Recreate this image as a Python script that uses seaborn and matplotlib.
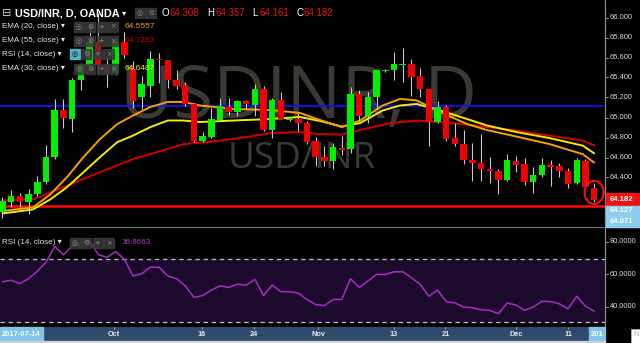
import matplotlib
matplotlib.use('Agg')
import matplotlib.pyplot as plt
import seaborn as sns
import numpy as np
import pandas as pd
from matplotlib.patches import Rectangle, Ellipse
from matplotlib.lines import Line2D

# ---------------- data ----------------
opens = [64.06, 64.16, 64.22, 64.16, 64.24, 64.36, 64.61, 65.08, 64.99, 65.38,
         65.52, 65.76, 65.52, 65.45, 65.76, 65.49, 65.21, 65.32, 65.59, 65.58,
         65.38, 65.33, 65.14, 64.77, 64.81, 64.98, 65.11, 65.06, 65.17, 65.13,
         65.29, 64.88, 65.18, 64.98, 64.99, 64.95, 64.77, 64.61, 64.57, 64.70,
         64.69, 65.24, 65.02, 65.21, 65.47, 65.48, 65.53, 65.54, 65.42, 65.29,
         64.96, 65.11, 64.80, 64.74, 64.58, 64.55, 64.49, 64.47, 64.38, 64.57,
         64.54, 64.36, 64.43, 64.53, 64.52, 64.47, 64.35, 64.57, 64.308]
highs = [64.21, 64.28, 64.25, 64.29, 64.42, 64.73, 65.19, 65.19, 65.40, 65.55,
         65.92, 66.05, 65.61, 65.80, 65.86, 65.57, 65.42, 65.67, 65.65, 65.58,
         65.48, 65.36, 65.15, 64.86, 65.10, 65.20, 65.20, 65.18, 65.18, 65.34,
         65.32, 65.20, 65.26, 65.00, 65.05, 64.97, 64.81, 64.72, 64.75, 64.82,
         65.31, 65.28, 65.26, 65.49, 65.49, 65.66, 65.70, 65.59, 65.50, 65.29,
         65.17, 65.13, 64.95, 64.88, 64.75, 64.84, 64.61, 64.49, 64.64, 64.62,
         64.60, 64.51, 64.60, 64.58, 64.55, 64.50, 64.60, 64.59, 64.357]
lows = [64.00, 64.11, 64.11, 64.04, 64.22, 64.34, 64.59, 64.90, 64.86, 65.28,
        65.51, 65.44, 65.31, 65.43, 65.60, 65.10, 65.09, 65.21, 65.35, 65.30,
        65.29, 65.12, 64.76, 64.76, 64.80, 64.97, 65.03, 65.02, 65.09, 65.02,
        64.87, 64.80, 64.99, 64.97, 64.87, 64.74, 64.52, 64.52, 64.49, 64.63,
        64.65, 64.97, 64.95, 65.10, 65.46, 65.38, 65.36, 65.22, 65.21, 64.72,
        64.95, 64.77, 64.72, 64.54, 64.37, 64.37, 64.35, 64.24, 64.37, 64.46,
        64.33, 64.25, 64.41, 64.32, 64.41, 64.30, 64.34, 64.30, 64.161]
closes = [64.17, 64.22, 64.16, 64.24, 64.36, 64.61, 65.08, 65.00, 65.38, 65.53,
          65.76, 65.53, 65.45, 65.76, 65.63, 65.17, 65.34, 65.59, 65.58, 65.38,
          65.32, 65.14, 64.77, 64.82, 64.99, 65.12, 65.06, 65.17, 65.14, 65.29,
          64.88, 65.18, 64.99, 64.99, 64.95, 64.76, 64.61, 64.57, 64.71, 64.685,
          65.24, 65.02, 65.21, 65.48, 65.48, 65.54, 65.54, 65.41, 65.29, 64.96,
          65.11, 64.79, 64.74, 64.58, 64.55, 64.49, 64.47, 64.38, 64.58, 64.53,
          64.36, 64.43, 64.53, 64.51, 64.47, 64.34, 64.58, 64.31, 64.182]

ema20_idx = [0, 3.5, 5.5, 7.4, 9.3, 11.2, 13.2, 15, 17, 19, 20.8, 22.7, 26.5, 30.8,
             34.2, 36.5, 39, 41.1, 43.7, 45.7, 47.6, 50.3, 53.4, 55.7, 59.1, 62.9, 66.7, 68]
ema20_val = [64.075, 64.11, 64.24, 64.41, 64.61, 64.79, 64.94, 65.025, 65.11, 65.16, 65.16,
             65.125, 65.09, 65.08, 65.05, 64.98, 64.91, 64.975, 65.125, 65.19, 65.175, 65.06,
             64.94, 64.88, 64.815, 64.74, 64.64, 64.5557]
ema30_idx = [0, 3.5, 5.5, 7.4, 9.3, 11.2, 13.2, 15, 17, 19, 20.8, 22.7, 26.5, 30.8,
             34.2, 36.5, 39, 41.1, 43.7, 45.7, 47.6, 50.3, 53.4, 55.7, 59.1, 62.9, 66.7, 68]
ema30_val = [64.05, 64.09, 64.19, 64.31, 64.46, 64.61, 64.76, 64.825, 64.91, 64.975, 64.975,
             64.96, 64.975, 64.99, 65.01, 64.97, 64.915, 64.95, 65.075, 65.125, 65.14, 65.075,
             64.99, 64.925, 64.86, 64.80, 64.725, 64.6487]
ema55_idx = [0, 3.5, 7.4, 11.2, 15, 18.9, 20.8, 24.7, 28.4, 30.8, 34.2, 36.5, 39,
             41.6, 44.6, 47.6, 50.3, 53.4, 55.7, 59.1, 62.9, 66.7, 68]
ema55_val = [64.18, 64.19, 64.325, 64.46, 64.59, 64.69, 64.74, 64.77, 64.815, 64.85, 64.86,
             64.84, 64.835, 64.89, 64.95, 64.975, 64.96, 64.935, 64.91, 64.875, 64.825,
             64.775, 64.7283]

rsi_vals = [55.5, 56.5, 54.4, 57.5, 62.3, 68.0, 78.0, 72.7, 78.3, 80.4,
            81.5, 73.0, 71.0, 74.8, 70.0, 59.2, 60.6, 64.8, 64.8, 59.2,
            57.5, 52.9, 45.6, 46.7, 50.2, 52.9, 51.9, 54.0, 53.3, 57.1,
            46.7, 53.5, 49.2, 49.2, 48.3, 44.2, 41.0, 40.4, 44.2, 44.2,
            57.5, 51.9, 56.0, 60.2, 60.2, 61.9, 61.9, 58.1, 54.0, 46.3,
            50.2, 42.9, 42.1, 39.4, 39.0, 37.7, 37.3, 35.2, 41.9, 40.8,
            37.3, 39.4, 43.1, 42.9, 41.5, 38.3, 46.3, 40.0, 36.86]

blue_level = 65.118
red_level = 64.125
price_ticks = [66.0, 65.8, 65.6, 65.4, 65.2, 65.0, 64.8, 64.6, 64.4]
rsi_ticks = [80, 60, 40]
rsi_bands = [30, 70]
date_labels = ['Oct', '16', '24', 'Nov', '13', '21', 'Dec', '11']
date_pos = [12.85, 22.9, 28.9, 36.3, 45.0, 50.9, 59.0, 65.0]

# ---------------- figure ----------------
sns.set_style('dark')
plt.rcParams['font.family'] = ['Liberation Sans', 'DejaVu Sans']

W, H = 640, 343
fig = plt.figure(figsize=(6.4, 3.43), dpi=100, facecolor='black')

def fx(x):
    return x / W

def fy(y):
    return 1 - y / H

XL = (-0.287, 69.25)
P_TOP, P_BOT = 66.175, 63.915

ax = fig.add_axes([0, fy(227), fx(605), 227 / H])
ax_r = fig.add_axes([0, fy(327), fx(605), 99 / H])
ax_d = fig.add_axes([0, fy(341), fx(605), 14 / H])
for a in (ax, ax_r, ax_d):
    a.set_facecolor('black')
    for s in a.spines.values():
        s.set_visible(False)
    a.set_xticks([])
    a.set_yticks([])
    a.grid(False)
    a.set_xlim(*XL)
    a.set_xlabel('')
    a.set_ylabel('')

ax.set_ylim(P_BOT, P_TOP)

# watermark
ax.text(fx(120), fy(118), 'USDINR, D', transform=fig.transFigure, ha='left', va='baseline',
        fontsize=52.5, color='#3a3934', family=['Open Sans', 'DejaVu Sans'], fontweight='normal', zorder=0)
ax.text(fx(228), fy(168.5), 'USD/INR', transform=fig.transFigure, ha='left', va='baseline',
        fontsize=26.5, color='#3a3934', family=['Open Sans', 'DejaVu Sans'], fontweight='normal', zorder=0)

# horizontal levels
ax.axhline(blue_level, xmin=0, xmax=603 / 605, color='#1010ff', lw=1.3, zorder=1)
ax.axhline(red_level, color='#ff0a0a', lw=1.8, zorder=1)

# EMA lines
sns.lineplot(x=ema55_idx, y=ema55_val, ax=ax, color='#d00000', lw=1.4, estimator=None, sort=False, zorder=2)
sns.lineplot(x=ema30_idx, y=ema30_val, ax=ax, color='#f5ea00', lw=1.4, estimator=None, sort=False, zorder=2)
sns.lineplot(x=ema20_idx, y=ema20_val, ax=ax, color='#f5a000', lw=1.4, estimator=None, sort=False, zorder=2)

# candles
idx = np.arange(len(opens))
o = np.array(opens); c = np.array(closes); h = np.array(highs); l = np.array(lows)
up = c >= o
ax.vlines(idx, l, h, color='#c8c8c8', lw=0.8, zorder=3)
bottoms = np.minimum(o, c)
heights = np.maximum(np.abs(c - o), 0.012)
ax.bar(idx[up], heights[up], bottom=bottoms[up], width=0.74, color='#00f000', zorder=4, linewidth=0)
ax.bar(idx[~up], heights[~up], bottom=bottoms[~up], width=0.74, color='#f00000', zorder=4, linewidth=0)

# circle around last candle
last = len(opens) - 1
ax.add_patch(Ellipse((idx[last], (h[last] + l[last]) / 2), 2.2, 0.23, fill=False,
                     edgecolor='#ff1010', lw=1.4, zorder=5))

# ---------------- RSI panel ----------------
ax_r.set_ylim(26.7, 89.8)
ax_r.axhspan(rsi_bands[0], rsi_bands[1], color='#1c0a2c', zorder=0)
for b in rsi_bands:
    ax_r.axhline(b, color='#c0c0c0', lw=0.9, dashes=(3.5, 3), zorder=1)
sns.lineplot(x=idx, y=rsi_vals, ax=ax_r, color='#a62cc8', lw=1.1, estimator=None, zorder=2)
ax_r.set_xlabel(''); ax_r.set_ylabel('')
ax_r.set_xticks([]); ax_r.set_yticks([])

# ---------------- date bar ----------------
ax_d.set_facecolor('#2e4a6c')
ax_d.set_ylim(0, 1)
for lab, p in zip(date_labels, date_pos):
    ax_d.text(p, 0.45, lab, ha='center', va='center', fontsize=5.3, color='#e6e6e6', fontweight='bold')
    ax_d.plot([p, p], [0.85, 1.0], color='#9ab0c8', lw=0.6)

fig.patches.append(Rectangle((0, fy(341)), fx(43), 14 / H, transform=fig.transFigure,
                             color='#80c4ea', zorder=5))
fig.text(fx(21.5), fy(334), '2017-07-14', ha='center', va='center', fontsize=5.4,
         color='white', fontweight='bold', zorder=6)
fig.patches.append(Rectangle((fx(589), fy(341)), fx(16), 14 / H, transform=fig.transFigure,
                             color='#80c4ea', zorder=5))
fig.text(fx(597), fy(334), '201', ha='center', va='center', fontsize=5.4,
         color='white', fontweight='bold', zorder=6)
fig.patches.append(Rectangle((0, 0), fx(605), 2 / H, transform=fig.transFigure,
                             color='#d0d0d0', zorder=5))
fig.patches.append(Rectangle((fx(631), 0), fx(9), 14 / H, transform=fig.transFigure,
                             facecolor='white', edgecolor='#bbbbbb', lw=0.5, zorder=5))
fig.text(fx(633), fy(334), 'N', ha='left', va='center', fontsize=5.5, color='#aaaaaa', zorder=6)

# ---------------- axes frame lines ----------------
fig.add_artist(Line2D([fx(605), fx(605)], [fy(0), fy(327)], color='#8a8a8a', lw=0.9))
fig.add_artist(Line2D([0, 1], [fy(227), fy(227)], color='#707070', lw=0.9))

# price labels
for p in price_ticks:
    ypx = 117.5 - (p - 65.0) * 100
    fig.add_artist(Line2D([fx(605), fx(608)], [fy(ypx), fy(ypx)], color='#8a8a8a', lw=0.7))
    fig.text(fx(610), fy(ypx), f'{p:.3f}', ha='left', va='center', fontsize=5.4, color='#d8d8d8')

def price_box(ytop, ybot, color, label):
    fig.patches.append(Rectangle((fx(606), fy(ybot)), fx(34), (ybot - ytop) / H,
                                 transform=fig.transFigure, color=color, zorder=5))
    fig.text(fx(610), fy((ytop + ybot) / 2), label, ha='left', va='center', fontsize=5.6,
             color='white', fontweight='bold', zorder=6)

price_box(193, 206, '#f01212', f'{closes[-1]:.3f}')
price_box(206, 216, '#8ccdf0', '64.127')
price_box(216, 226.5, '#8ccdf0', '64.071')

# rsi labels
for r in rsi_ticks:
    ypx = 241.7 + (80 - r) * 1.625
    fig.add_artist(Line2D([fx(605), fx(608)], [fy(ypx), fy(ypx)], color='#8a8a8a', lw=0.7))
    fig.text(fx(610), fy(ypx), f'{r:.4f}', ha='left', va='center', fontsize=5.3, color='#d8d8d8')

# ---------------- header / legend ----------------
fig.text(fx(2), fy(13), '\u229f', ha='left', va='center', fontsize=8, color='#cfcfcf',
         family=['DejaVu Sans'])
fig.text(fx(15), fy(13), 'USD/INR, D, OANDA', ha='left', va='center', fontsize=7.8,
         color='white', fontweight='bold')
fig.text(fx(122), fy(13), '\u25be', ha='left', va='center', fontsize=6, color='white',
         family=['DejaVu Sans'])

def icon_boxes(x0, yc, n, first_blue=False, glyphs=('\u25ce', '\u2699', '+', '\u00d7')):
    x = x0
    for k in range(n):
        col = '#5cc6e6' if (first_blue and k == 0) else '#3a3a3a'
        fig.patches.append(Rectangle((fx(x), fy(yc + 5)), fx(10), 10 / H, transform=fig.transFigure,
                                     color=col, alpha=0.85, zorder=5))
        fig.text(fx(x + 5), fy(yc), glyphs[k % len(glyphs)], ha='center', va='center', fontsize=5,
                 color='#111111' if (first_blue and k == 0) else '#8a8a8a',
                 family=['DejaVu Sans'], zorder=6)
        x += 11.3

icon_boxes(135, 13, 2)

ohlc = [('O', opens[-1]), ('H', highs[-1]), ('L', lows[-1]), ('C', closes[-1])]
xs = [162, 207.5, 252.5, 296.5]
for (k, v), x in zip(ohlc, xs):
    fig.text(fx(x), fy(13), k, ha='left', va='center', fontsize=7, color='white')
    fig.text(fx(x + 7.5), fy(13), f'{v:.3f}', ha='left', va='center', fontsize=7, color='#e8141c')

rows = [('EMA (20, close) \u25be', 26.7, '64.5557', '#f0a000', False),
        ('EMA (55, close) \u25be', 41.0, '64.7283', '#c00000', False),
        ('RSI (14, close) \u25be', 54.3, None, None, True),
        ('EMA (30, close) \u25be', 69.0, '64.6487', '#f2ee00', False)]
for txt, yc, val, vc, blue in rows:
    fig.text(fx(2), fy(yc), txt, ha='left', va='center', fontsize=5.8, color='#e6e6e6')
    icon_boxes(70 if blue else 74, yc, 4, first_blue=blue)
    if val:
        fig.text(fx(125), fy(yc), val, ha='left', va='center', fontsize=6, color=vc, zorder=7)

fig.text(fx(2), fy(243), 'RSI (14, close) \u25be', ha='left', va='center', fontsize=5.8, color='#e6e6e6')
icon_boxes(70, 243, 4)
fig.text(fx(122), fy(243), f'{rsi_vals[-1] + 0.0063:.4f}', ha='left', va='center',
         fontsize=5.8, color='#b040c0')

fig.savefig('out.png', dpi=100, facecolor='black')
